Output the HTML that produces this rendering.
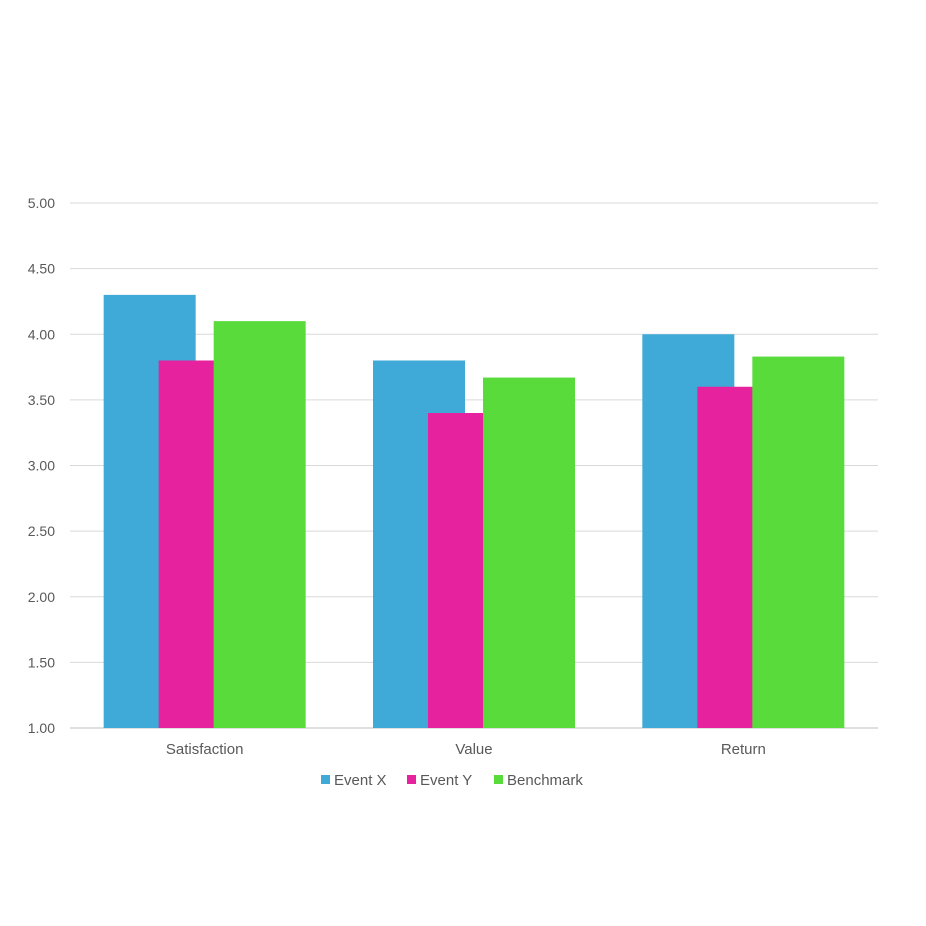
<!DOCTYPE html>
<html><head><meta charset="utf-8"><style>
body{margin:0;background:#fff;}
svg{display:block;font-family:"Liberation Sans",sans-serif;}
</style></head><body>
<svg id="chart" width="926" height="926" xmlns="http://www.w3.org/2000/svg">
<g id="grid"></g>
<g id="yaxis"></g>
<g id="bars"></g>
<g id="xaxis"></g>
<g id="legend"></g>
</svg>
<script>
const categories = ["Satisfaction","Value","Return"];
const seriesNames = ["Event X","Event Y","Benchmark"];
const eventX = [4.30, 3.80, 4.00];
const eventY = [3.80, 3.40, 3.60];
const benchmark = [4.10, 3.67, 3.83];
const yTicks = [1.00,1.50,2.00,2.50,3.00,3.50,4.00,4.50,5.00];
const colors = ["#3FAAD8","#E6229E","#5ADB3C"];

const NS="http://www.w3.org/2000/svg";
const L=70,R=878,T=203,B=728,yMin=1,yMax=5;
const y=v=>B-(v-yMin)/(yMax-yMin)*(B-T);
const catW=(R-L)/categories.length;
const xc=i=>L+catW*(i+0.5);
function mk(tag,attrs,parent,text){const e=document.createElementNS(NS,tag);for(const k in attrs)e.setAttribute(k,attrs[k]);if(text!==undefined)e.textContent=text;parent.appendChild(e);return e;}
const grid=document.getElementById('grid'),ya=document.getElementById('yaxis'),bars=document.getElementById('bars'),xa=document.getElementById('xaxis'),lg=document.getElementById('legend');
yTicks.forEach(t=>{
  const ln=mk('line',{x1:L,x2:R,y1:y(t),y2:y(t),stroke:t===yMin?'#BFBFBF':'#D9D9D9','stroke-width':1},grid);
  
  
  const tx=mk('text',{x:55,y:y(t)+5,'text-anchor':'end','font-size':14,fill:'#595959'},ya,t.toFixed(2));
  
  
});
const series=[eventX,eventY,benchmark];
const bw=92, step=55;
series.forEach((s,si)=>{
  s.forEach((v,i)=>{
    const cx=xc(i)+(si-1)*step;
    const r=mk('rect',{x:cx-bw/2,y:y(v),width:bw,height:B-y(v),fill:colors[si]},bars);
    
    
  });
});
categories.forEach((c,i)=>{
  const t=mk('text',{x:xc(i),y:754,'text-anchor':'middle','font-size':15,fill:'#595959'},xa,c);
  
  
});
const lx=[321,407,494];
seriesNames.forEach((n,i)=>{
  const g=mk('g',{},lg);
  
  
  mk('rect',{x:lx[i],y:775,width:9,height:9,fill:colors[i]},g);
  mk('text',{x:lx[i]+13,y:785,'font-size':15,fill:'#595959'},g,n);
});
</script>
</body></html>
